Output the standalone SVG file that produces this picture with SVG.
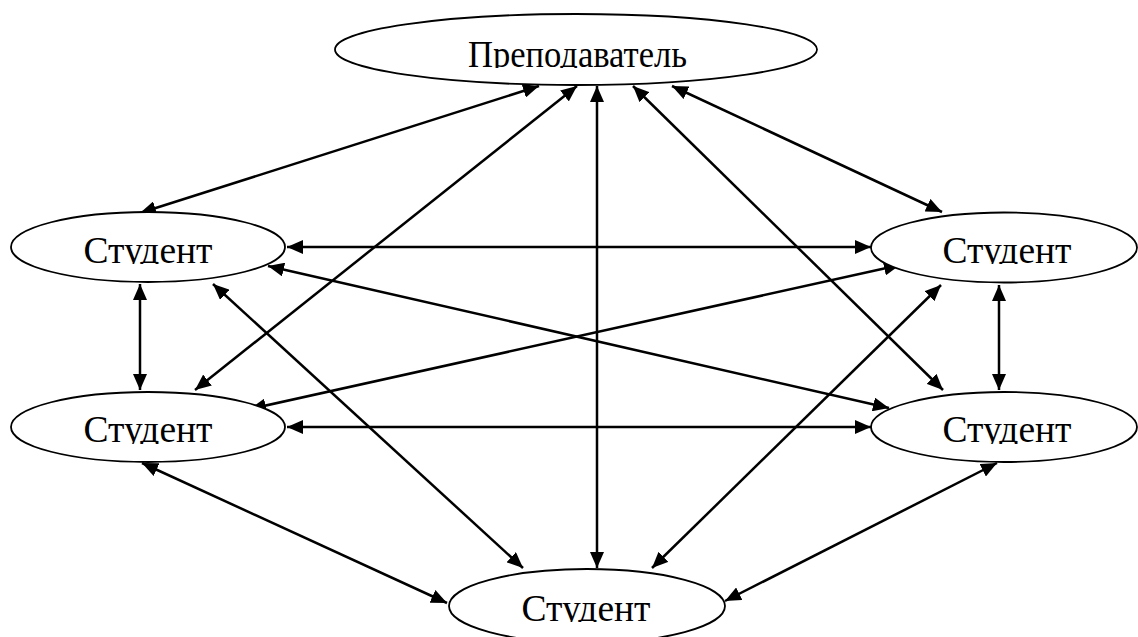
<svg xmlns="http://www.w3.org/2000/svg" width="1138" height="637" viewBox="0 0 1138 637">
<style>
.node{fill:#fff;stroke:#000;stroke-width:1.8}
.lbl{font-family:"Liberation Serif","Times New Roman",serif;font-size:37.5px;fill:#000;text-anchor:middle}
.edge{stroke:#000;stroke-width:2.5;fill:none;marker-start:url(#ah);marker-end:url(#ah)}
</style>
<defs>
<marker id="ah" markerUnits="userSpaceOnUse" markerWidth="16" markerHeight="14" refX="16" refY="7" orient="auto-start-reverse" viewBox="0 0 16 14">
<path d="M0,0 L16,7 L0,14 z" fill="#000"/>
</marker>
<clipPath id="c0"><rect x="330" y="0" width="500" height="68"/></clipPath>
<clipPath id="c1"><rect x="0" y="200" width="300" height="64"/></clipPath>
<clipPath id="c2"><rect x="0" y="380" width="300" height="64"/></clipPath>
<clipPath id="c3"><rect x="860" y="200" width="278" height="64"/></clipPath>
<clipPath id="c4"><rect x="860" y="380" width="278" height="64"/></clipPath>
<clipPath id="c5"><rect x="440" y="560" width="300" height="62"/></clipPath>
</defs>
<rect width="1138" height="637" fill="#fff"/>
<g id="connectors">
<line class="edge" x1="539" y1="86" x2="140" y2="213"/>
<line class="edge" x1="577" y1="86" x2="195" y2="390"/>
<line class="edge" x1="597" y1="86" x2="597" y2="568"/>
<line class="edge" x1="633" y1="86" x2="943" y2="390"/>
<line class="edge" x1="672" y1="86" x2="942" y2="212"/>
<line class="edge" x1="287" y1="247" x2="871" y2="247"/>
<line class="edge" x1="140" y1="284" x2="140" y2="390"/>
<line class="edge" x1="268" y1="266" x2="889" y2="408"/>
<line class="edge" x1="213" y1="284" x2="523" y2="568"/>
<line class="edge" x1="250" y1="409" x2="900" y2="265"/>
<line class="edge" x1="287" y1="427" x2="871" y2="427"/>
<line class="edge" x1="142" y1="463" x2="447" y2="603"/>
<line class="edge" x1="999" y1="285" x2="999" y2="390"/>
<line class="edge" x1="941" y1="285" x2="652" y2="568"/>
<line class="edge" x1="997" y1="463" x2="725" y2="601"/>
</g>
<g id="teacher">
<ellipse class="node" cx="576" cy="49.5" rx="241" ry="35.5"/>
<text class="lbl" x="577.5" y="67" textLength="219" lengthAdjust="spacingAndGlyphs" clip-path="url(#c0)">Преподаватель</text>
</g>
<g id="student-lt">
<ellipse class="node" cx="148" cy="247" rx="137" ry="35"/>
<text class="lbl" x="148" y="263" clip-path="url(#c1)">Студент</text>
</g>
<g id="student-lb">
<ellipse class="node" cx="148" cy="427" rx="137" ry="35"/>
<text class="lbl" x="148" y="442" clip-path="url(#c2)">Студент</text>
</g>
<g id="student-rt">
<ellipse class="node" cx="1004" cy="247.5" rx="133" ry="35"/>
<text class="lbl" x="1007" y="263" clip-path="url(#c3)">Студент</text>
</g>
<g id="student-rb">
<ellipse class="node" cx="1004" cy="427" rx="133" ry="35"/>
<text class="lbl" x="1007" y="442" clip-path="url(#c4)">Студент</text>
</g>
<g id="student-bottom">
<ellipse class="node" cx="587" cy="606" rx="138" ry="37"/>
<text class="lbl" x="586" y="621" clip-path="url(#c5)">Студент</text>
</g>
</svg>
